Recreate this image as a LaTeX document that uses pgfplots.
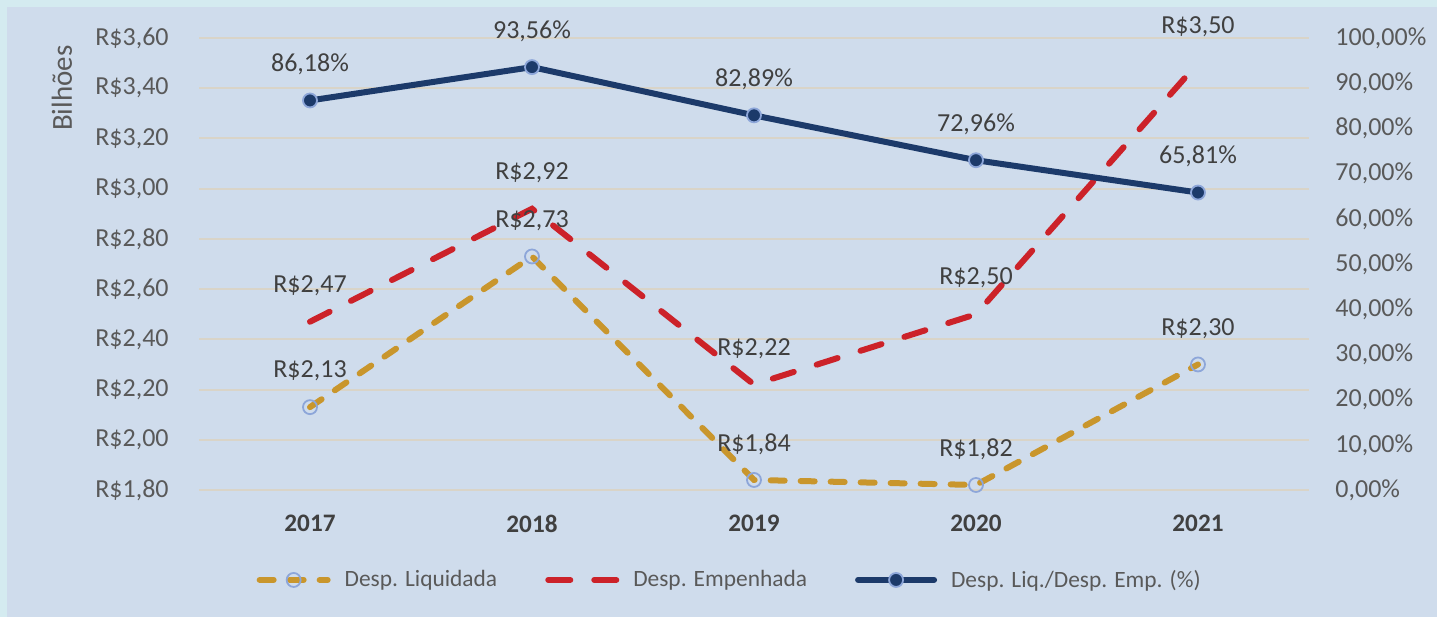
\documentclass[border=0pt]{standalone}
\usepackage{fontspec}
\setmainfont{Carlito}
\usepackage{pgfplots}
\pgfplotsset{compat=1.18}
\definecolor{bgouter}{HTML}{D4EBF0}
\definecolor{bginner}{HTML}{CFDCEC}
\definecolor{gridc}{HTML}{D9D4C8}
\definecolor{goldc}{HTML}{C9962C}
\definecolor{redc}{HTML}{CC2229}
\definecolor{navyc}{HTML}{1C3A6A}
\definecolor{markc}{HTML}{8DA6D9}
\definecolor{tickc}{HTML}{595959}
\definecolor{labc}{HTML}{404040}
\pgfplotsset{
  /pgf/number format/assume math mode=true,
  goldline/.style={goldc, line width=3pt, line cap=round, dash pattern=on 7pt off 8pt,
     mark=o, mark size=3.5pt, mark options={solid, draw=markc, line width=0.9pt}},
  redline/.style={redc, line width=3pt, line cap=round, dash pattern=on 11pt off 12pt, mark=none},
  navyline/.style={navyc, line width=3pt, line cap=round,
     mark=*, mark size=3.5pt, mark options={solid, draw=markc, fill=navyc, line width=0.9pt}},
  common/.style={
    at={(99.5pt,63.5pt)}, anchor=south west,
    scale only axis, width=555pt, height=226pt,
    xmin=-0.5, xmax=4.5, clip=false,
    axis line style={draw=none}, major tick length=0pt,
    tick label style={font=\fontsize{13}{15}\selectfont, text=tickc, inner sep=0pt},
    nodes near coords style={font=\fontsize{13}{15}\selectfont, text=labc, anchor=center, yshift=18pt},
    legend image code/.code={\draw[mark repeat=2, mark phase=2] plot coordinates {(0pt,0pt) (17pt,0pt) (34pt,0pt)};},
  },
}
\begin{document}
\begin{tikzpicture}[x=1pt,y=1pt]
\fill[bgouter] (0,0) rectangle (718.5,308.5);
\fill[bginner] (3.5,0) rectangle (718.5,305);
\useasboundingbox (0,0) rectangle (718.5,308.5);
\begin{axis}[common,
  ymin=1.8, ymax=3.6,
  ytick={1.8,2.0,2.2,2.4,2.6,2.8,3.0,3.2,3.4,3.6},
  yticklabel={R\$\pgfmathprintnumber[fixed,fixed zerofill,precision=2,use comma]{\tick}},
  yticklabel shift=15pt,
  ymajorgrids, grid style={gridc, line width=1pt},
  xtick={0,1,2,3,4},
  xticklabels={2017,2018,2019,2020,2021},
  xticklabel style={font=\fontsize{12.6}{15}\bfseries\selectfont, text=labc},
  xticklabel shift=12.5pt,
  ylabel={Bilhões},
  ylabel style={at={(axis description cs:-0.1234,0.889)}, anchor=center, font=\fontsize{14.5}{16}\selectfont, text=tickc},
  nodes near coords={R\$\pgfmathprintnumber[fixed,fixed zerofill,precision=2,use comma]{\pgfplotspointmeta}},
]
\addplot[goldline] coordinates {(0,2.13) (1,2.73) (2,1.84) (3,1.82) (4,2.30)};
\addplot[redline] coordinates {(0,2.47) (1,2.92) (2,2.22) (3,2.50) (4,3.50)};
\end{axis}
\begin{axis}[common,
  ymin=0, ymax=100,
  axis x line=none, axis y line*=right,
  ytick={0,10,20,30,40,50,60,70,80,90,100},
  yticklabel={\pgfmathprintnumber[fixed,fixed zerofill,precision=2,use comma]{\tick}\%},
  yticklabel shift=13pt,
  yticklabel style={anchor=west},
  nodes near coords={\pgfmathprintnumber[fixed,fixed zerofill,precision=2,use comma]{\pgfplotspointmeta}\%},
  legend style={draw=none, fill=none, font=\fontsize{11.7}{14}\selectfont, text=tickc,
     at={(0.479,-0.199)}, anchor=center, legend columns=3,
     /tikz/every odd column/.append style={column sep=5pt},
     /tikz/every even column/.append style={column sep=22pt}},
]
\addlegendimage{goldline}
\addlegendentry{Desp. Liquidada}
\addlegendimage{redline}
\addlegendentry{Desp. Empenhada}
\addplot[navyline, legend image code/.code={\draw[mark repeat=2, mark phase=2] plot coordinates {(0pt,0pt) (19pt,0pt) (38pt,0pt)};}] coordinates {(0,86.18) (1,93.56) (2,82.89) (3,72.96) (4,65.81)};
\addlegendentry{Desp. Liq./Desp. Emp. (\%)}
\end{axis}
\end{tikzpicture}
\end{document}
